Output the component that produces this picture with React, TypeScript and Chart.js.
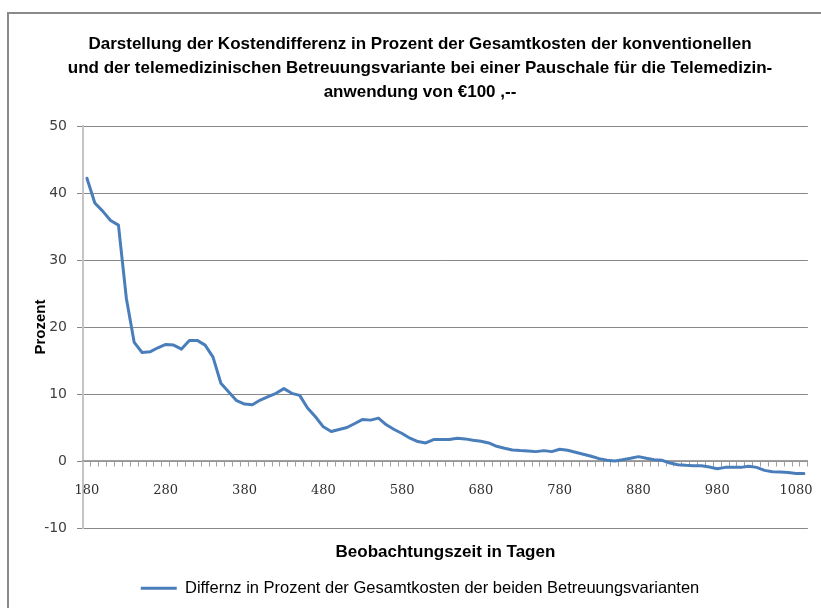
import React, { useEffect, useRef } from "react";
import { Chart, registerables } from "chart.js";

Chart.register(...registerables);

const titleLines = [
  "Darstellung der Kostendifferenz in Prozent der Gesamtkosten der konventionellen",
  "und der telemedizinischen Betreuungsvariante bei einer Pauschale für die Telemedizin-",
  "anwendung von €100 ,--",
];
const yTitle = "Prozent";
const xTitle = "Beobachtungszeit in Tagen";
const seriesLabel = "Differnz in Prozent der Gesamtkosten der beiden Betreuungsvarianten";

const days = [
  180, 190, 200, 210, 220, 230, 240, 250, 260, 270,
  280, 290, 300, 310, 320, 330, 340, 350, 360, 370,
  380, 390, 400, 410, 420, 430, 440, 450, 460, 470,
  480, 490, 500, 510, 520, 530, 540, 550, 560, 570,
  580, 590, 600, 610, 620, 630, 640, 650, 660, 670,
  680, 690, 700, 710, 720, 730, 740, 750, 760, 770,
  780, 790, 800, 810, 820, 830, 840, 850, 860, 870,
  880, 890, 900, 910, 920, 930, 940, 950, 960, 970,
  980, 990, 1000, 1010, 1020, 1030, 1040, 1050, 1060, 1070,
  1080, 1090,
];

const differenz = [
  42.2, 38.5, 37.3, 35.9, 35.2, 24.3, 17.7, 16.2, 16.3, 16.9,
  17.4, 17.3, 16.7, 18.0, 18.0, 17.3, 15.5, 11.6, 10.3, 9.0,
  8.5, 8.4, 9.1, 9.6, 10.1, 10.8, 10.1, 9.8, 7.9, 6.6,
  5.1, 4.4, 4.7, 5.0, 5.6, 6.2, 6.1, 6.4, 5.4, 4.7,
  4.1, 3.4, 2.9, 2.7, 3.2, 3.2, 3.2, 3.4, 3.3, 3.1,
  2.95, 2.7, 2.2, 1.9, 1.65, 1.55, 1.5, 1.4, 1.55, 1.4,
  1.75, 1.6, 1.3, 1.0, 0.7, 0.35, 0.1, 0.0, 0.2, 0.4,
  0.65, 0.4, 0.2, 0.1, -0.3, -0.55, -0.65, -0.7, -0.72, -0.9,
  -1.15, -0.95, -0.95, -0.95, -0.8, -0.95, -1.4, -1.6, -1.65, -1.7,
  -1.85, -1.85,
];

const xTickLabels = [180, 280, 380, 480, 580, 680, 780, 880, 980, 1080];
const yMin = -10;
const yMax = 50;
const yStep = 10;

const framePlugin = {
  id: "frame",
  beforeDraw(chart: any) {
    const ctx = chart.ctx;
    ctx.save();
    ctx.fillStyle = "#ffffff";
    ctx.fillRect(0, 0, chart.width, chart.height);
    ctx.strokeStyle = "#8a8a8a";
    ctx.lineWidth = 2;
    ctx.beginPath();
    ctx.moveTo(8, chart.height);
    ctx.lineTo(8, 13);
    ctx.lineTo(chart.width, 13);
    ctx.stroke();
    ctx.restore();
  },
};

export default function App() {
  const ref = useRef<HTMLCanvasElement | null>(null);

  useEffect(() => {
    if (!ref.current) return;
    Chart.defaults.font.family = "'Liberation Sans', Arial, sans-serif";
    const chart = new Chart(ref.current, {
      type: "line",
      data: {
        labels: days.map(String),
        datasets: [
          {
            label: seriesLabel,
            data: differenz,
            borderColor: "#4a7ebb",
            backgroundColor: "#4a7ebb",
            borderWidth: 3,
            pointRadius: 0,
            tension: 0,
            borderJoinStyle: "round",
            borderCapStyle: "round",
            xAxisID: "x",
            yAxisID: "y",
          },
        ],
      },
      options: {
        animation: false,
        responsive: false,
        devicePixelRatio: 1,
        layout: { padding: { left: 32, right: 13, top: 14, bottom: 1.5 } },
        plugins: {
          title: {
            display: true,
            text: titleLines,
            color: "#000000",
            font: { size: 17, weight: "bold", lineHeight: "24px" },
            padding: { top: 18, bottom: 22 },
          },
          legend: {
            display: true,
            position: "bottom",
            labels: {
              color: "#000000",
              font: { size: 16.5 },
              usePointStyle: true,
              pointStyle: "line",
              pointStyleWidth: 36,
              padding: 10,
            },
          },
          tooltip: { enabled: false },
        },
        scales: {
          y: {
            type: "linear",
            position: "left",
            min: yMin,
            max: yMax,
            ticks: {
              stepSize: yStep,
              color: "#404040",
              font: { family: "'DejaVu Sans', sans-serif", size: 14 },
              padding: 10,
            },
            grid: {
              color: "#888888",
              lineWidth: 1,
              tickLength: 6,
              tickColor: "#888888",
            },
            border: { display: true, color: "#c4c4c4", width: 2 },
            title: {
              display: true,
              text: yTitle,
              color: "#000000",
              font: { size: 15, weight: "bold" },
              padding: { top: 0, bottom: 0 },
            },
            afterFit(s: any) {
              s.width = 51;
            },
          },
          x: {
            type: "category",
            position: { y: 0 },
            offset: true,
            grid: {
              display: true,
              drawOnChartArea: false,
              drawTicks: true,
              tickLength: 5,
              tickColor: "#a0a0a0",
              offset: true,
            },
            border: { display: true, color: "#a0a0a0", width: 1.5 },
            ticks: {
              autoSkip: false,
              maxRotation: 0,
              minRotation: 0,
              padding: 17,
              color: "#303030",
              font: { family: "'DejaVu Serif', serif", size: 13 },
              callback(_v: any, i: number) {
                const d = days[i];
                return xTickLabels.includes(d) ? String(d) : "";
              },
            },
          },
          x2: {
            type: "category",
            position: "bottom",
            offset: true,
            grid: { display: false, drawTicks: false },
            border: { display: false },
            ticks: { display: false },
            title: {
              display: true,
              text: xTitle,
              color: "#000000",
              font: { size: 17, weight: "bold" },
              padding: { top: 0, bottom: 7 },
            },
            afterFit(s: any) {
              s.height = 42;
            },
          },
        },
      },
      plugins: [framePlugin],
    } as any);
    return () => chart.destroy();
  }, []);

  return (
    <div style={{ position: "absolute", left: 0, top: 0, width: 821, height: 608 }}>
      <canvas ref={ref} width={821} height={608} style={{ display: "block" }} />
    </div>
  );
}
